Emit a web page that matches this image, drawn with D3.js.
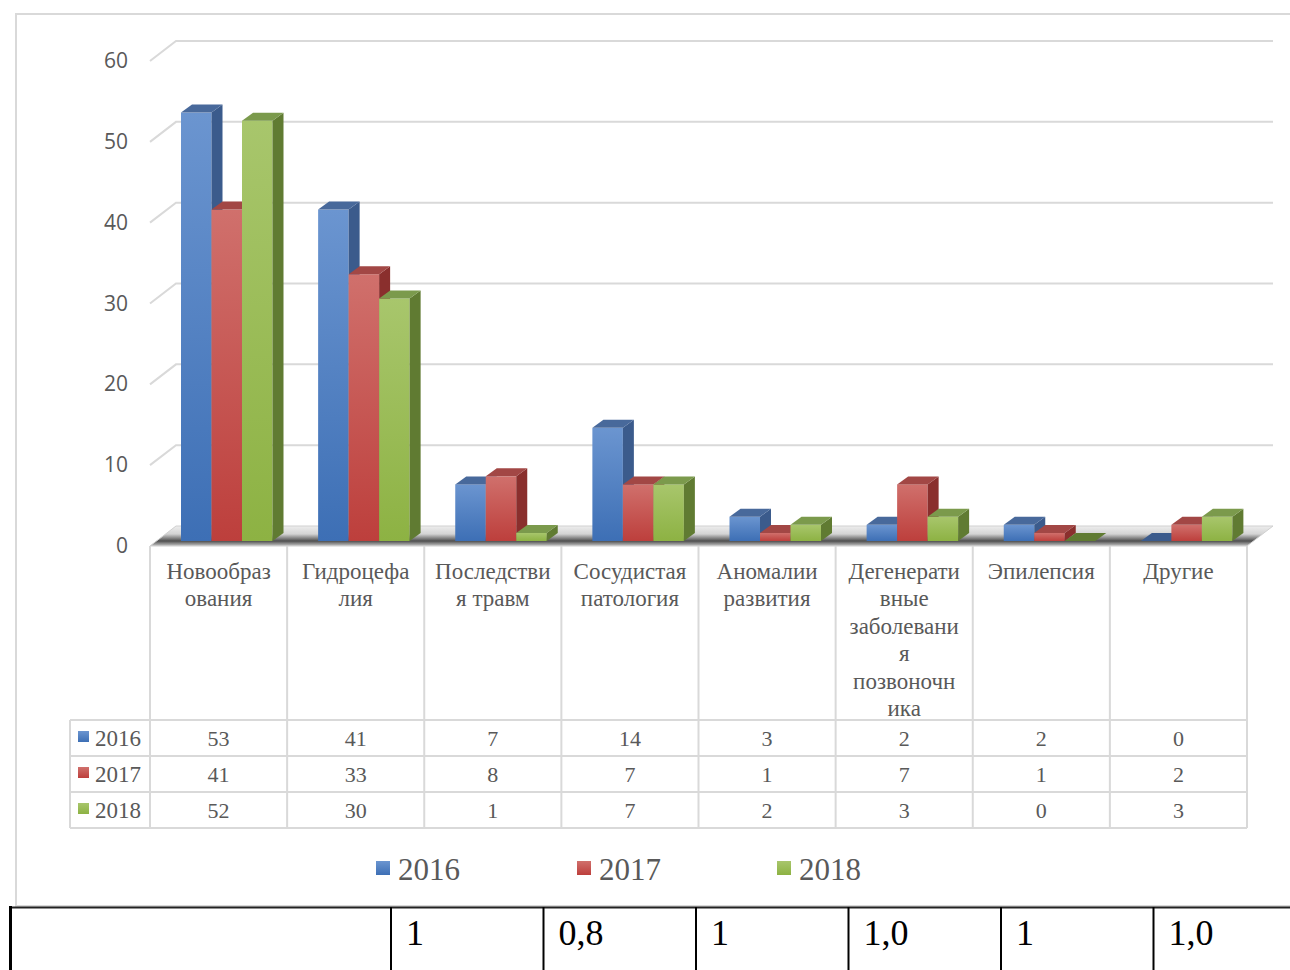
<html lang="ru">
<head>
<meta charset="utf-8">
<title>Структура патологии 2016-2018</title>
<script src="https://cdn.jsdelivr.net/npm/d3@7"></script>
<style>
  body { margin: 0; background: #fff; }
  svg { display: block; }
</style>
</head>
<body>
<script>
// data
var categories = [
  ["Новообраз", "ования"],
  ["Гидроцефа", "лия"],
  ["Последстви", "я травм"],
  ["Сосудистая", "патология"],
  ["Аномалии", "развития"],
  ["Дегенерати", "вные", "заболевани", "я", "позвоночн", "ика"],
  ["Эпилепсия"],
  ["Другие"]
];
var years = ["2016", "2017", "2018"];
var v2016 = [53, 41, 7, 14, 3, 2, 2, 0];
var v2017 = [41, 33, 8, 7, 1, 7, 1, 2];
var v2018 = [52, 30, 1, 7, 2, 3, 0, 3];
var yTicks = [0, 10, 20, 30, 40, 50, 60];
var footerVals = ["1", "0,8", "1", "1,0", "1", "1,0"];

var series = [v2016, v2017, v2018];

var W = 1290, H = 970;
var dx = 26, dy = 20;      // wall depth
var bdx = 11, bdy = 8;     // bar depth
var txt = "#595959", grid = "#d9d9d9";

var colors = [
  {top: "#6b95d0", bot: "#3d6fb5", side: "#3b5b8c", cap: "#48699b"},
  {top: "#d0706c", bot: "#bd3f3c", side: "#8a2f2d", cap: "#a24745"},
  {top: "#a8c66c", bot: "#8db243", side: "#607b32", cap: "#7b9a4c"}
];

var svg = d3.select("body").append("svg")
  .attr("width", W).attr("height", H);

var defs = svg.append("defs");
colors.forEach(function(c, i) {
  var g = defs.append("linearGradient").attr("id", "front" + i)
    .attr("x1", 0).attr("y1", 0).attr("x2", 0).attr("y2", 1);
  g.append("stop").attr("offset", "0%").attr("stop-color", c.top);
  g.append("stop").attr("offset", "100%").attr("stop-color", c.bot);
});
var sh = defs.append("linearGradient").attr("id", "shadow")
  .attr("x1", 0).attr("y1", 0).attr("x2", 0).attr("y2", 1);
sh.append("stop").attr("offset", "0%").attr("stop-color", "#eeeeee");
sh.append("stop").attr("offset", "40%").attr("stop-color", "#d4d4d4");
sh.append("stop").attr("offset", "75%").attr("stop-color", "#4f4f4f");
sh.append("stop").attr("offset", "100%").attr("stop-color", "#c8c8c8");

// outer chart frame
svg.append("path")
  .attr("d", "M" + W + ",14 H16 V906 H" + W)
  .attr("fill", "none").attr("stroke", grid).attr("stroke-width", 2);

// scales
var x = d3.scaleBand().domain(d3.range(categories.length)).range([150, 1247]);
var xs = d3.scaleBand().domain(years).range([31, 31 + 91.5]);
var yFront = d3.scaleLinear().domain([0, 60]).range([546, 61]);
var yBar = d3.scaleLinear().domain([0, 60]).range([541, 56]);

// back wall gridlines with left diagonal
var gl = svg.append("g");
yTicks.forEach(function(t) {
  if (t === 0) return;
  gl.append("path")
    .attr("d", "M150," + yFront(t) + " L" + (150 + dx) + "," + (yFront(t) - dy) +
               " H" + (1247 + dx))
    .attr("fill", "none").attr("stroke", grid).attr("stroke-width", 2);
});

// floor
svg.append("path")
  .attr("d", "M150," + yFront(0) + " L" + (150 + dx) + "," + (yFront(0) - dy) +
             " H" + (1247 + dx) + " L1247," + yFront(0) + "Z")
  .attr("fill", "url(#shadow)").attr("stroke", "#d0d0d0").attr("stroke-width", 1);

// y axis labels
svg.append("g").selectAll("text").data(yTicks).enter().append("text")
  .attr("x", 128).attr("y", function(d) { return yFront(d) + 7; })
  .attr("text-anchor", "end")
  .attr("font-family", "'Open Sans', sans-serif").attr("font-size", "21px")
  .attr("fill", txt).text(function(d) { return d; });

// 3d bars
var bw = xs.bandwidth();
categories.forEach(function(c, ci) {
  years.forEach(function(yr, si) {
    var v = series[si][ci];
    var x0 = x(ci) + xs(yr), x1 = x0 + bw;
    var yt = yBar(v), yb = yBar(0);
    var g = svg.append("g");
    if (v > 0) {
      g.append("rect").attr("x", x0).attr("y", yt)
        .attr("width", bw).attr("height", yb - yt)
        .attr("fill", "url(#front" + si + ")");
      g.append("path")
        .attr("d", "M" + x1 + "," + yt + " L" + (x1 + bdx) + "," + (yt - bdy) +
                   " V" + (yb - bdy) + " L" + x1 + "," + yb + "Z")
        .attr("fill", colors[si].side);
    }
    g.append("path")
      .attr("d", "M" + x0 + "," + yt + " L" + (x0 + bdx) + "," + (yt - bdy) +
                 " H" + (x1 + bdx) + " L" + x1 + "," + yt + "Z")
      .attr("fill", v > 0 ? colors[si].cap : colors[si].side);
  });
});

// data table
var rowTop = 720, rowH = 36;
var tbl = svg.append("g");
// vertical cell lines
d3.range(categories.length + 1).forEach(function(i) {
  var xx = i < categories.length ? x(i) : x.range()[1];
  tbl.append("line").attr("x1", xx).attr("x2", xx)
    .attr("y1", 546).attr("y2", rowTop + rowH * years.length)
    .attr("stroke", grid).attr("stroke-width", 2);
});
tbl.append("line").attr("x1", 70).attr("x2", 70)
  .attr("y1", rowTop).attr("y2", rowTop + rowH * years.length)
  .attr("stroke", grid).attr("stroke-width", 2);
d3.range(years.length + 1).forEach(function(r) {
  tbl.append("line").attr("x1", 70).attr("x2", x.range()[1])
    .attr("y1", rowTop + r * rowH).attr("y2", rowTop + r * rowH)
    .attr("stroke", grid).attr("stroke-width", 2);
});

// category labels
categories.forEach(function(lines, ci) {
  var t = tbl.append("text")
    .attr("text-anchor", "middle")
    .attr("font-family", "'Liberation Serif', 'Times New Roman', serif")
    .attr("font-size", "23px").attr("fill", txt);
  lines.forEach(function(l, li) {
    t.append("tspan").attr("x", x(ci) + x.bandwidth() / 2)
      .attr("y", 579 + li * 27.4).text(l);
  });
});

// values and row labels
years.forEach(function(yr, si) {
  var yy = rowTop + si * rowH + 26;
  tbl.append("rect").attr("x", 78).attr("y", yy - 15)
    .attr("width", 11).attr("height", 11).attr("fill", "url(#front" + si + ")");
  tbl.append("text").attr("x", 95).attr("y", yy)
    .attr("font-family", "'Liberation Serif', serif").attr("font-size", "23px")
    .attr("fill", txt).text(yr);
  series[si].forEach(function(v, ci) {
    tbl.append("text").attr("x", x(ci) + x.bandwidth() / 2).attr("y", yy)
      .attr("text-anchor", "middle")
      .attr("font-family", "'Liberation Serif', serif").attr("font-size", "22px")
      .attr("fill", txt).text(v);
  });
});

// legend
var lx = d3.scaleOrdinal().domain(years).range([376, 577, 777]);
var lg = svg.append("g");
years.forEach(function(yr, si) {
  lg.append("rect").attr("x", lx(yr)).attr("y", 861)
    .attr("width", 14).attr("height", 14).attr("fill", "url(#front" + si + ")");
  lg.append("text").attr("x", lx(yr) + 22).attr("y", 880)
    .attr("font-family", "'Liberation Serif', serif").attr("font-size", "31px")
    .attr("fill", txt).text(yr);
});

// black table row below the chart
var fx = d3.scaleBand().domain(d3.range(footerVals.length)).range([391, 1306]);
var ft = svg.append("g");
ft.append("line").attr("x1", 9).attr("x2", W).attr("y1", 907.5).attr("y2", 907.5)
  .attr("stroke", "#222").attr("stroke-width", 2);
ft.append("line").attr("x1", 10.5).attr("x2", 10.5).attr("y1", 906).attr("y2", H)
  .attr("stroke", "#000").attr("stroke-width", 3);
footerVals.forEach(function(v, i) {
  ft.append("line").attr("x1", fx(i)).attr("x2", fx(i)).attr("y1", 907).attr("y2", H)
    .attr("stroke", "#000").attr("stroke-width", 2);
  ft.append("text").attr("x", fx(i) + 15).attr("y", 945)
    .attr("font-family", "'Liberation Serif', serif").attr("font-size", "36px")
    .attr("fill", "#000").text(v);
});
</script>
</body>
</html>
